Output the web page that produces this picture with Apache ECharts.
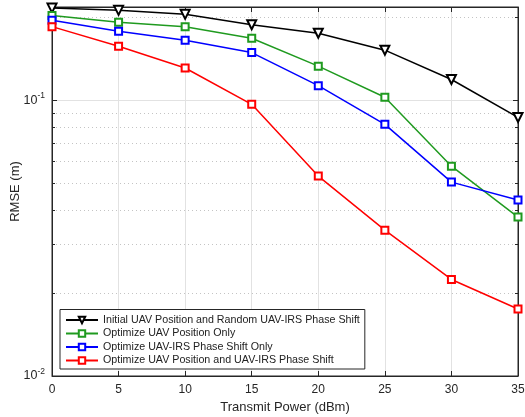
<!DOCTYPE html>
<html>
<head>
<meta charset="utf-8">
<script src="https://cdn.jsdelivr.net/npm/echarts@6/dist/echarts.min.js"></script>
<style>html,body{margin:0;padding:0;background:#fff}#c{width:525px;height:417px}</style>
</head>
<body>
<div id="c"></div>
<script>
var xValues = [0, 5, 10, 15, 20, 25, 30, 35];
var seriesNames = [
  'Initial UAV Position and Random UAV-IRS Phase Shift',
  'Optimize UAV Position Only',
  'Optimize UAV-IRS Phase Shift Only',
  'Optimize UAV Position and UAV-IRS Phase Shift'
];
var initialRandom = [0.216, 0.212, 0.205, 0.188, 0.175, 0.152, 0.119, 0.0867];
var optPosition   = [0.203, 0.192, 0.185, 0.168, 0.133, 0.1026, 0.0577, 0.0377];
var optPhase      = [0.195, 0.178, 0.165, 0.149, 0.113, 0.0818, 0.0505, 0.0435];
var optBoth       = [0.185, 0.157, 0.131, 0.0967, 0.0531, 0.0338, 0.0224, 0.0175];
var majorY = [0.01, 0.1];
var minorY = [0.02, 0.03, 0.04, 0.05, 0.06, 0.07, 0.08, 0.09, 0.2];
var yMin = 0.01, yMax = 0.218;

var axisColor = '#262626';
var font = 'Liberation Sans, Arial, Helvetica, sans-serif';

function pairs(arr) { return xValues.map(function (x, i) { return [x, arr[i]]; }); }

var chart = echarts.init(document.getElementById('c'), null, {renderer: 'canvas'});

function logAxis(extra) {
  var base = {
    type: 'log', logBase: 10, min: yMin, max: yMax,
    axisLine: {show: false}, axisLabel: {show: false},
    axisTick: {show: false}, splitLine: {show: false}
  };
  return Object.assign(base, extra);
}

var colors = ['#000000', '#1f9a1f', '#0000ff', '#ff0000'];
var dataSets = [initialRandom, optPosition, optPhase, optBoth];

var series = dataSets.map(function (d, i) {
  return {
    name: seriesNames[i], type: 'line', data: pairs(d),
    xAxisIndex: 0, yAxisIndex: 0,
    clip: false,
    symbol: i === 0 ? 'emptyTriangle' : 'emptyRect',
    symbolRotate: i === 0 ? 180 : 0,
    symbolSize: i === 0 ? 9 : 7,
    showAllSymbol: true,
    lineStyle: {color: colors[i], width: 1.5},
    itemStyle: {color: colors[i], borderWidth: 1.3},
    emphasis: {disabled: true},
    z: 5 + i
  };
});

var option = {
  animation: false,
  backgroundColor: '#fff',
  textStyle: {fontFamily: font},
  grid: {left: 52, right: 7, top: 7, bottom: 41, containLabel: false, outerBoundsMode: 'none',
         show: true, borderColor: axisColor, borderWidth: 1, backgroundColor: 'transparent'},
  xAxis: [{
    type: 'value', min: 0, max: 35, interval: 5, position: 'bottom',
    name: 'Transmit Power (dBm)', nameLocation: 'middle', nameGap: 24,
    nameTextStyle: {fontSize: 13, color: axisColor, fontFamily: font},
    axisLine: {show: true, lineStyle: {color: axisColor}},
    axisTick: {show: true, inside: true, length: 5, lineStyle: {color: axisColor}},
    axisLabel: {fontSize: 12, color: axisColor, margin: 8, fontFamily: font},
    splitLine: {show: true, lineStyle: {color: '#e2e2e2', width: 1}}
  }, {
    type: 'value', min: 0, max: 35, interval: 5, position: 'top',
    axisLine: {show: true, lineStyle: {color: axisColor}},
    axisTick: {show: true, inside: true, length: 5, lineStyle: {color: axisColor}},
    axisLabel: {show: false}, splitLine: {show: false}
  }],
  yAxis: [
    logAxis({
      position: 'left',
      name: 'RMSE (m)', nameLocation: 'middle', nameGap: 30, nameMoveOverlap: false,
      nameTextStyle: {fontSize: 13, color: axisColor, fontFamily: font},
      axisLine: {show: true, lineStyle: {color: axisColor}},
      axisTick: {show: true, inside: true, length: 5, lineStyle: {color: axisColor}, customValues: majorY},
      axisLabel: {
        show: true, customValues: majorY, margin: 7,
        formatter: function (v) {
          var e = Math.round(Math.log(v) / Math.LN10);
          return '{b|10}{s|' + e + '}';
        },
        rich: {
          b: {fontSize: 12.5, color: axisColor, fontFamily: font},
          s: {fontSize: 8.5, color: axisColor, fontFamily: font, padding: [0, 0, 9, 0]}
        }
      },
      splitLine: {show: true, lineStyle: {color: '#e2e2e2', width: 1}}
    }),
    logAxis({
      position: 'left',
      axisTick: {show: true, inside: true, length: 3, lineStyle: {color: axisColor}, customValues: minorY},
      splitLine: {show: true, lineStyle: {color: '#c4c4c4', width: 1, type: [1, 3]}}
    }),
    logAxis({
      position: 'right',
      axisLine: {show: true, lineStyle: {color: axisColor}},
      axisTick: {show: true, inside: true, length: 5, lineStyle: {color: axisColor}, customValues: majorY}
    }),
    logAxis({
      position: 'right',
      axisTick: {show: true, inside: true, length: 3, lineStyle: {color: axisColor}, customValues: minorY}
    })
  ],
  legend: {
    orient: 'vertical', left: 60, bottom: 48,
    data: seriesNames,
    itemWidth: 32, itemHeight: 8, itemGap: 2.5,
    padding: [5, 5, 3, 5],
    backgroundColor: '#fff',
    borderColor: axisColor, borderWidth: 1, borderRadius: 0,
    textStyle: {fontSize: 10.7, color: '#222', fontFamily: font},
    selectedMode: false
  },
  series: series
};
chart.setOption(option);
</script>
</body>
</html>
